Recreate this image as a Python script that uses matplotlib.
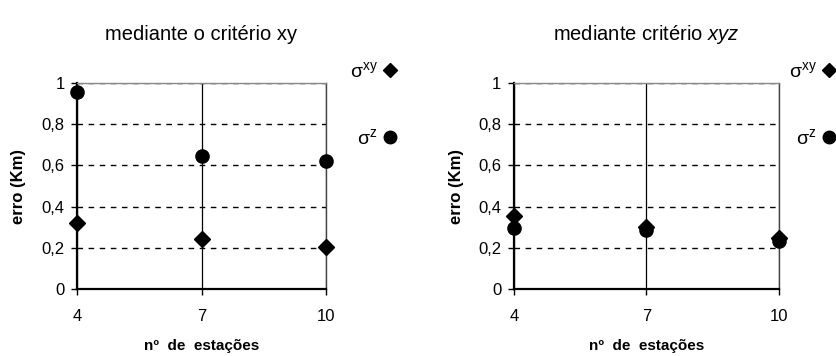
import numpy as np
import matplotlib
matplotlib.use('Agg')
import matplotlib.pyplot as plt
from matplotlib.lines import Line2D

plt.rcParams['font.family'] = ['Liberation Sans', 'DejaVu Sans']
plt.rcParams['mathtext.fontset'] = 'custom'
plt.rcParams['mathtext.rm'] = 'Liberation Sans'
plt.rcParams['mathtext.it'] = 'Liberation Sans:italic'

# numero de estacoes
estacoes = [4, 7, 10]

# criterio xy
xy_sigma_xy = [0.32, 0.242, 0.206]
xy_sigma_z = [0.956, 0.646, 0.622]

# criterio xyz
xyz_sigma_xy = [0.355, 0.30, 0.25]
xyz_sigma_z = [0.295, 0.285, 0.235]

yticks = [0, 0.2, 0.4, 0.6, 0.8, 1]
ytick_labels = ['0', '0,2', '0,4', '0,6', '0,8', '1']

titulos = ['mediante o critério xy', r'mediante critério $\mathit{xyz}$']
series = [(xy_sigma_xy, xy_sigma_z), (xyz_sigma_xy, xyz_sigma_z)]

fig = plt.figure(figsize=(8.37, 3.56), dpi=100)
posicoes = [[0.092, 0.188, 0.2975, 0.579], [0.614, 0.188, 0.3166, 0.579]]
ylabel_x = [-0.205, -0.19]
legenda_x = [397 / 837, 836 / 837]

for i in range(2):
    ax = fig.add_axes(posicoes[i])
    s_xy, s_z = series[i]
    ax.plot(estacoes, s_xy, ls='none', marker='D', ms=8.5, color='black',
            clip_on=False, zorder=5)
    ax.plot(estacoes, s_z, ls='none', marker='o', ms=9.5, color='black',
            clip_on=False, zorder=6)

    ax.set_xlim(4, 10)
    ax.set_ylim(0, 1)
    ax.set_xticks(estacoes)
    ax.set_xticklabels([str(e) for e in estacoes])
    ax.set_yticks(yticks)
    ax.set_yticklabels(ytick_labels)
    ax.tick_params(axis='x', direction='out', length=4, width=1, pad=10, labelsize=12)
    ax.tick_params(axis='y', direction='out', length=4, width=1, pad=5, labelsize=12)

    ax.set_axisbelow(True)
    ax.yaxis.grid(True, color='black', lw=1, ls=(0, (4, 4)))
    ax.xaxis.grid(True, color='black', lw=0.9, ls='-')
    ax.spines['left'].set_linewidth(1.6)
    ax.spines['bottom'].set_linewidth(1.6)
    ax.spines['top'].set_color('#888888')
    ax.spines['top'].set_linewidth(1)
    ax.spines['right'].set_color('#444444')
    ax.spines['right'].set_linewidth(1)

    ax.set_title(titulos[i], fontsize=14.5, pad=31)
    ax.set_xlabel('nº  de  estações', fontsize=11, fontweight='bold', va='center')
    ax.xaxis.set_label_coords(0.5, -0.277)
    ax.set_ylabel('erro (Km)', fontsize=12, fontweight='bold')
    ax.yaxis.set_label_coords(ylabel_x[i], 0.5)

    handles = [Line2D([], [], ls='none', marker='D', ms=7, color='black'),
               Line2D([], [], ls='none', marker='o', ms=9, color='black')]
    labels = [r'σ$^{\mathrm{xy}}$', r'σ$^{\mathrm{z}}$']
    fig.legend(handles, labels, loc='upper right',
               bbox_to_anchor=(legenda_x[i], 1 - 61 / 356),
               bbox_transform=fig.transFigure, frameon=False,
               markerfirst=False, handlelength=0.7, handletextpad=0.3,
               labelspacing=2.4, borderpad=0, borderaxespad=0,
               prop={'size': 14})

fig.savefig('out.png', dpi=100)
